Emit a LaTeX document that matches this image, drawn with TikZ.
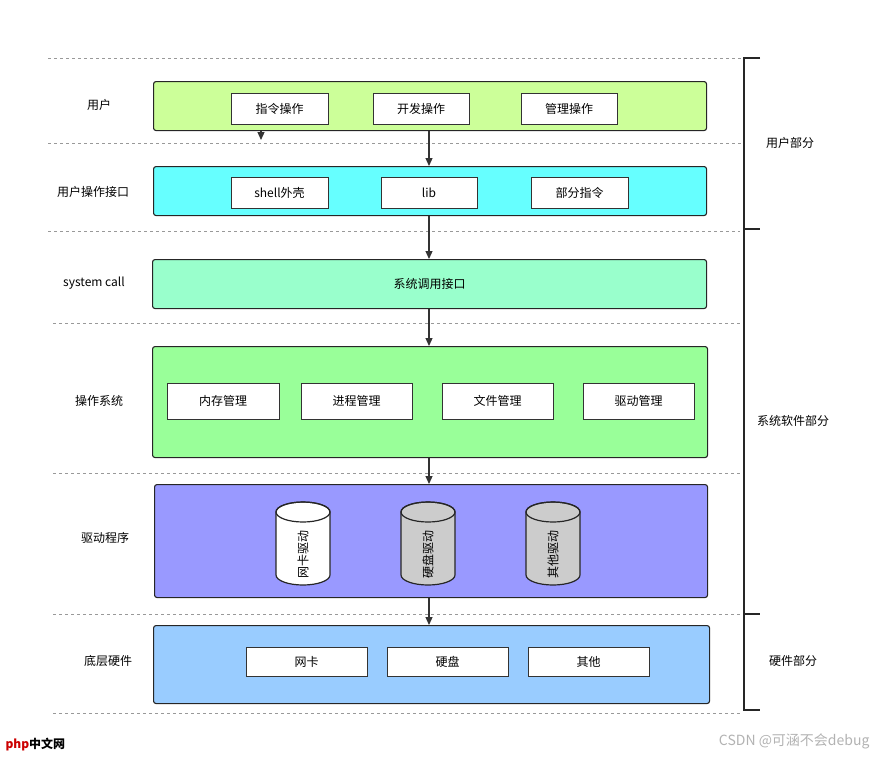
\documentclass[tikz,border=0pt]{standalone}
\usepackage{fontspec}
\setmainfont{Noto Sans CJK SC}
\usetikzlibrary{arrows.meta}
\begin{document}
\begin{tikzpicture}[x=1pt,y=-1pt,
  font=\fontsize{12}{14}\selectfont,
  sep/.style={gray!80,dashed,line width=0.6pt},
  big/.style={draw=black!85,line width=1.1pt,rounded corners=2.5pt},
  inner/.style={draw=black!80,fill=white,line width=0.8pt},
  arr/.style={draw=black!80,line width=1.2pt,-{Triangle[length=8pt,width=7pt]}},
  brk/.style={draw=black!85,line width=1.2pt},
  cylb/.style={draw=black!85,line width=1.2pt}]
\useasboundingbox (0,0) rectangle (875,756);
% dashed separators
\draw[sep] (48,58)--(742,58);
\draw[sep] (48,143)--(742,143);
\draw[sep] (48,231)--(740,231);
\draw[sep] (53,323)--(742,323);
\draw[sep] (53,473)--(742,473);
\draw[sep] (53,614)--(742,614);
\draw[sep] (53,713)--(742,713);
% brackets
\draw[brk] (760,58)--(744,58)--(744,229)--(760,229);
\draw[brk] (744,229)--(744,614)--(760,614);
\draw[brk] (744,614)--(744,710)--(760,710);
\node (pu) at (790,143) {用户部分};
\node (ps) at (793,421) {系统软件部分};
\node (ph) at (793,661) {硬件部分};
% left labels
\node (lu) at (99,105) {用户};
\node (li) at (93,192) {用户操作接口};
\node (ls) at (94,283) {system call};
\node (lo) at (99,401) {操作系统};
\node (ld) at (105,538) {驱动程序};
\node (lh) at (108,661) {底层硬件};
% layer boxes
\node[big,fill={rgb,255:red,204;green,255;blue,153},minimum width=553pt,minimum height=49pt,anchor=north west] (b1) at (153,81) {};
\node[big,fill={rgb,255:red,102;green,255;blue,255},minimum width=553pt,minimum height=49pt,anchor=north west] (b2) at (153,166) {};
\node[big,fill={rgb,255:red,153;green,255;blue,204},minimum width=554pt,minimum height=49pt,anchor=north west] (b3) at (152,259) {系统调用接口};
\node[big,fill={rgb,255:red,153;green,255;blue,153},minimum width=555pt,minimum height=111pt,anchor=north west] (b4) at (152,346) {};
\node[big,fill={rgb,255:red,153;green,153;blue,255},minimum width=553pt,minimum height=113pt,anchor=north west] (b5) at (154,484) {};
\node[big,fill={rgb,255:red,153;green,204;blue,255},minimum width=556pt,minimum height=78pt,anchor=north west] (b6) at (153,625) {};
% inner boxes
\node[inner,minimum width=97pt,minimum height=31pt] (u1) at (279.5,108.5) {指令操作};
\node[inner,minimum width=96pt,minimum height=31pt] (u2) at (421,108.5) {开发操作};
\node[inner,minimum width=96pt,minimum height=31pt] (u3) at (569,108.5) {管理操作};
\node[inner,minimum width=97pt,minimum height=31pt] (i1) at (279.5,192.5) {shell外壳};
\node[inner,minimum width=96pt,minimum height=31pt] (i2) at (429,192.5) {lib};
\node[inner,minimum width=97pt,minimum height=31pt] (i3) at (579.5,192.5) {部分指令};
\node[inner,minimum width=112pt,minimum height=36pt] (o1) at (223,401) {内存管理};
\node[inner,minimum width=111pt,minimum height=36pt] (o2) at (356.5,401) {进程管理};
\node[inner,minimum width=111pt,minimum height=36pt] (o3) at (497.5,401) {文件管理};
\node[inner,minimum width=111pt,minimum height=36pt] (o4) at (638.5,401) {驱动管理};
% cylinders
\foreach \cx/\fc/\nm/\tx in {303/white/c1/网卡驱动,428/black!20/c2/硬盘驱动,553/black!20/c3/其他驱动}{
  \draw[cylb,fill=\fc] (\cx-27,512) -- (\cx-27,575) arc (180:0:27 and 10) -- (\cx+27,512) arc (0:-180:27 and 10) -- cycle;
  \draw[cylb] (\cx,512) ellipse (27 and 10);
  \node[rotate=90] (\nm) at (\cx,554) {\tx};
}
\node[inner,minimum width=121pt,minimum height=29pt] (h1) at (306.5,661.5) {网卡};
\node[inner,minimum width=121pt,minimum height=29pt] (h2) at (447.5,661.5) {硬盘};
\node[inner,minimum width=121pt,minimum height=29pt] (h3) at (588.5,661.5) {其他};
% arrows
\coordinate (s0) at (261,131);
\coordinate (e0) at (261,140);
\draw[arr] (s0)--(e0);
\draw[arr] (b1.south -| 429,0)--(b2.north -| 429,0);
\draw[arr] (b2.south -| 429,0)--(b3.north -| 429,0);
\draw[arr] (b3.south -| 429,0)--(b4.north -| 429,0);
\draw[arr] (b4.south -| 429,0)--(b5.north -| 429,0);
\draw[arr] (b5.south -| 429,0)--(b6.north -| 429,0);
% watermarks
\node[gray!60,font=\fontsize{14}{16}\selectfont,anchor=east] (wm) at (873,741) {CSDN @可涵不会debug};
\node[font=\bfseries\fontsize{12}{14}\selectfont,anchor=west] (php) at (2,745) {\textcolor{red!80!black}{php}中文网};
\end{tikzpicture}
\end{document}
